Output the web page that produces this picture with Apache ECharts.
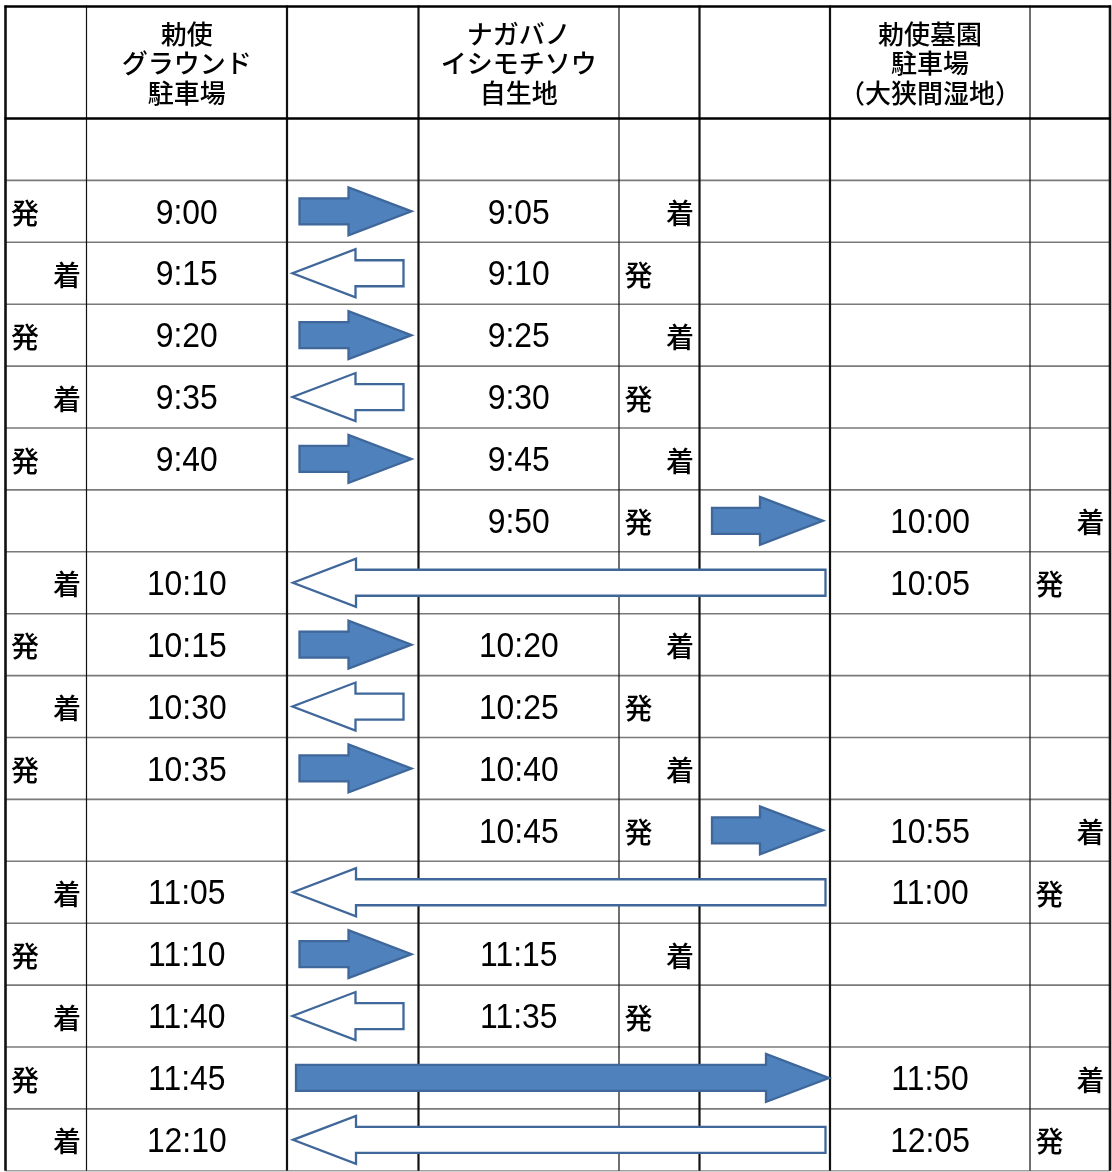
<!DOCTYPE html>
<html>
<head>
<meta charset="utf-8">
<script src="https://cdn.jsdelivr.net/npm/echarts@6/dist/echarts.min.js"></script>
<style>
html,body{margin:0;padding:0;background:#fff;}
#c{width:1112px;height:1172px;}
</style>
</head>
<body>
<div id="c"></div>
<script>
// ---------- DATA ----------
const stationNames = ['勅使\nグラウンド\n駐車場', 'ナガバノ\nイシモチソウ\n自生地', '勅使墓園\n駐車場\n（大狭間湿地）'];

const groundTimes   = ['', '9:00', '9:15', '9:20', '9:35', '9:40', '', '10:10', '10:15', '10:30', '10:35', '', '11:05', '11:10', '11:40', '11:45', '12:10'];
const groundMarks   = ['', '発', '着', '発', '着', '発', '', '着', '発', '着', '発', '', '着', '発', '着', '発', '着'];

const nagabanoTimes = ['', '9:05', '9:10', '9:25', '9:30', '9:45', '9:50', '', '10:20', '10:25', '10:40', '10:45', '', '11:15', '11:35', '', ''];
const nagabanoMarks = ['', '着', '発', '着', '発', '着', '発', '', '着', '発', '着', '発', '', '着', '発', '', ''];

const boenTimes     = ['', '', '', '', '', '', '10:00', '10:05', '', '', '', '10:55', '11:00', '', '', '11:50', '12:05'];
const boenMarks     = ['', '', '', '', '', '', '着', '発', '', '', '', '着', '発', '', '', '着', '発'];

// arrows: [row, fromStation, toStation]
const arrowRows = [1, 2, 3, 4, 5, 6, 7, 8, 9, 10, 11, 12, 13, 14, 15, 16];
const arrowFrom = [0, 1, 0, 1, 0, 1, 2, 0, 1, 0, 1, 2, 0, 1, 0, 2];
const arrowTo   = [1, 0, 1, 0, 1, 2, 0, 1, 0, 1, 2, 0, 1, 0, 2, 0];

// ---------- LAYOUT ----------
const W = 1112, H = 1172;
const colEdges = [5.5, 86.5, 287, 418.5, 619, 699.5, 830, 1030, 1110];
const colLineW = [2.6, 1.2, 2.2, 2.2, 1.2, 2.2, 2.2, 1.2, 2.6];
const tableTop = 6.5, headerBottom = 118.5, rowH = 61.9, nRows = 17;
const tableBottom = headerBottom + rowH * nRows;
const timeCol = [1, 3, 6], markCol = [0, 4, 7], gapCol = [2, 5];
const BLUE = '#4F81BD', BLUE_LINE = '#3F6799';

const allTimes = [groundTimes, nagabanoTimes, boenTimes];
const allMarks = [groundMarks, nagabanoMarks, boenMarks];

function rowMid(r) { return headerBottom + rowH * (r + 0.5); }

// cell text data: [row, station]
const cellData = [];
for (let s = 0; s < 3; s++) {
  for (let r = 0; r < nRows; r++) {
    if (allTimes[s][r] || allMarks[s][r]) cellData.push([r, s]);
  }
}
const arrowData = arrowRows.map((r, i) => [r, arrowFrom[i], arrowTo[i]]);

const chart = echarts.init(document.getElementById('c'), null, {renderer: 'canvas'});

function pt(api, x, y) { return api.coord([x, y]); }

const option = {
  animation: false,
  backgroundColor: '#fff',
  grid: {left: 0, right: 0, top: 0, bottom: 0},
  xAxis: {type: 'value', min: 0, max: W, show: false},
  yAxis: {type: 'value', min: 0, max: H, inverse: true, show: false},
  series: [
    // grid lines
    {
      type: 'custom', clip: false, silent: true, z: 1,
      data: [[0, 0]],
      renderItem: function (params, api) {
        const children = [];
        for (let r = 1; r <= nRows; r++) {
          const y = headerBottom + rowH * r;
          const a = pt(api, colEdges[0], y), b = pt(api, colEdges[8], y);
          children.push({type: 'line', shape: {x1: a[0], y1: a[1], x2: b[0], y2: b[1]},
            style: {stroke: r === nRows ? '#a0a0a0' : '#7a7a7a', lineWidth: 1.6}});
        }
        colEdges.forEach(function (x, i) {
          const a = pt(api, x, tableTop - 1), b = pt(api, x, tableBottom);
          children.push({type: 'line', shape: {x1: a[0], y1: a[1], x2: b[0], y2: b[1]},
            style: {stroke: '#111', lineWidth: colLineW[i]}});
        });
        [tableTop, headerBottom].forEach(function (y) {
          const a = pt(api, colEdges[0] - 1, y), b = pt(api, colEdges[8] + 1, y);
          children.push({type: 'line', shape: {x1: a[0], y1: a[1], x2: b[0], y2: b[1]},
            style: {stroke: '#000', lineWidth: 2.6}});
        });
        return {type: 'group', children: children};
      }
    },
    // arrows
    {
      type: 'custom', clip: false, silent: true, z: 2,
      data: arrowData,
      renderItem: function (params, api) {
        const r = api.value(0), f = api.value(1), t = api.value(2);
        const lo = Math.min(f, t), hi = Math.max(f, t);
        const L = colEdges[gapCol[lo]], R = colEdges[timeCol[hi]];
        const long = (hi - lo) > 1;
        const c = rowMid(r);
        const bh = 13, hh = 24, hl = 63;
        let pts, fill;
        if (t > f) {
          const xs = L + (long ? 9 : 12.5);
          const xt = R - (long ? 1 : 7);
          pts = [[xs, c - bh], [xt - hl, c - bh], [xt - hl, c - hh], [xt, c], [xt - hl, c + hh], [xt - hl, c + bh], [xs, c + bh]];
          fill = BLUE;
        } else {
          const xt = L + (long ? 6 : 5.5);
          const xe = R - (long ? 4.5 : 15);
          pts = [[xe, c - bh], [xt + hl, c - bh], [xt + hl, c - hh], [xt, c], [xt + hl, c + hh], [xt + hl, c + bh], [xe, c + bh]];
          fill = '#fff';
        }
        return {
          type: 'polygon',
          shape: {points: pts.map(function (p) { return pt(api, p[0], p[1]); })},
          style: {fill: fill, stroke: BLUE_LINE, lineWidth: 2.3, lineJoin: 'miter'}
        };
      }
    },
    // header texts
    {
      type: 'custom', clip: false, silent: true, z: 3,
      data: stationNames.map(function (n, i) { return [i, 0]; }),
      renderItem: function (params, api) {
        const s = api.value(0);
        const cx = (colEdges[timeCol[s]] + colEdges[timeCol[s] + 1]) / 2;
        const p = pt(api, cx, (tableTop + headerBottom) / 2 + 1);
        return {
          type: 'text', x: p[0], y: p[1],
          style: {text: stationNames[s], x: 0, y: 0, align: 'center', verticalAlign: 'middle',
            fontFamily: '"Noto Sans CJK JP", sans-serif', fontSize: 26, fontWeight: 500, lineHeight: 29.5, fill: '#000'}
        };
      }
    },
    // cell texts
    {
      type: 'custom', clip: false, silent: true, z: 4,
      data: cellData,
      renderItem: function (params, api) {
        const r = api.value(0), s = api.value(1);
        const children = [];
        const time = allTimes[s][r], mark = allMarks[s][r];
        const c = rowMid(r);
        if (time) {
          const cx = (colEdges[timeCol[s]] + colEdges[timeCol[s] + 1]) / 2;
          const p = pt(api, cx, c + 2.5);
          children.push({
            type: 'text', x: p[0], y: p[1], scaleX: 0.91, scaleY: 1,
            style: {text: time, x: 0, y: 0, align: 'center', verticalAlign: 'middle',
              fontFamily: '"Liberation Sans", Arial, sans-serif', fontSize: 35, fill: '#000'}
          });
        }
        if (mark) {
          const left = mark === '発';
          const mc = markCol[s];
          const x = left ? colEdges[mc] + 5.5 : colEdges[mc + 1] - 5.5;
          const p = pt(api, x, c + 2);
          children.push({
            type: 'text', x: p[0], y: p[1],
            style: {text: mark, x: 0, y: 0, align: left ? 'left' : 'right', verticalAlign: 'middle',
              fontFamily: '"Noto Sans CJK JP", sans-serif', fontSize: 28, fontWeight: 500, fill: '#000'}
          });
        }
        return {type: 'group', children: children};
      }
    }
  ]
};
chart.setOption(option);
</script>
</body>
</html>
